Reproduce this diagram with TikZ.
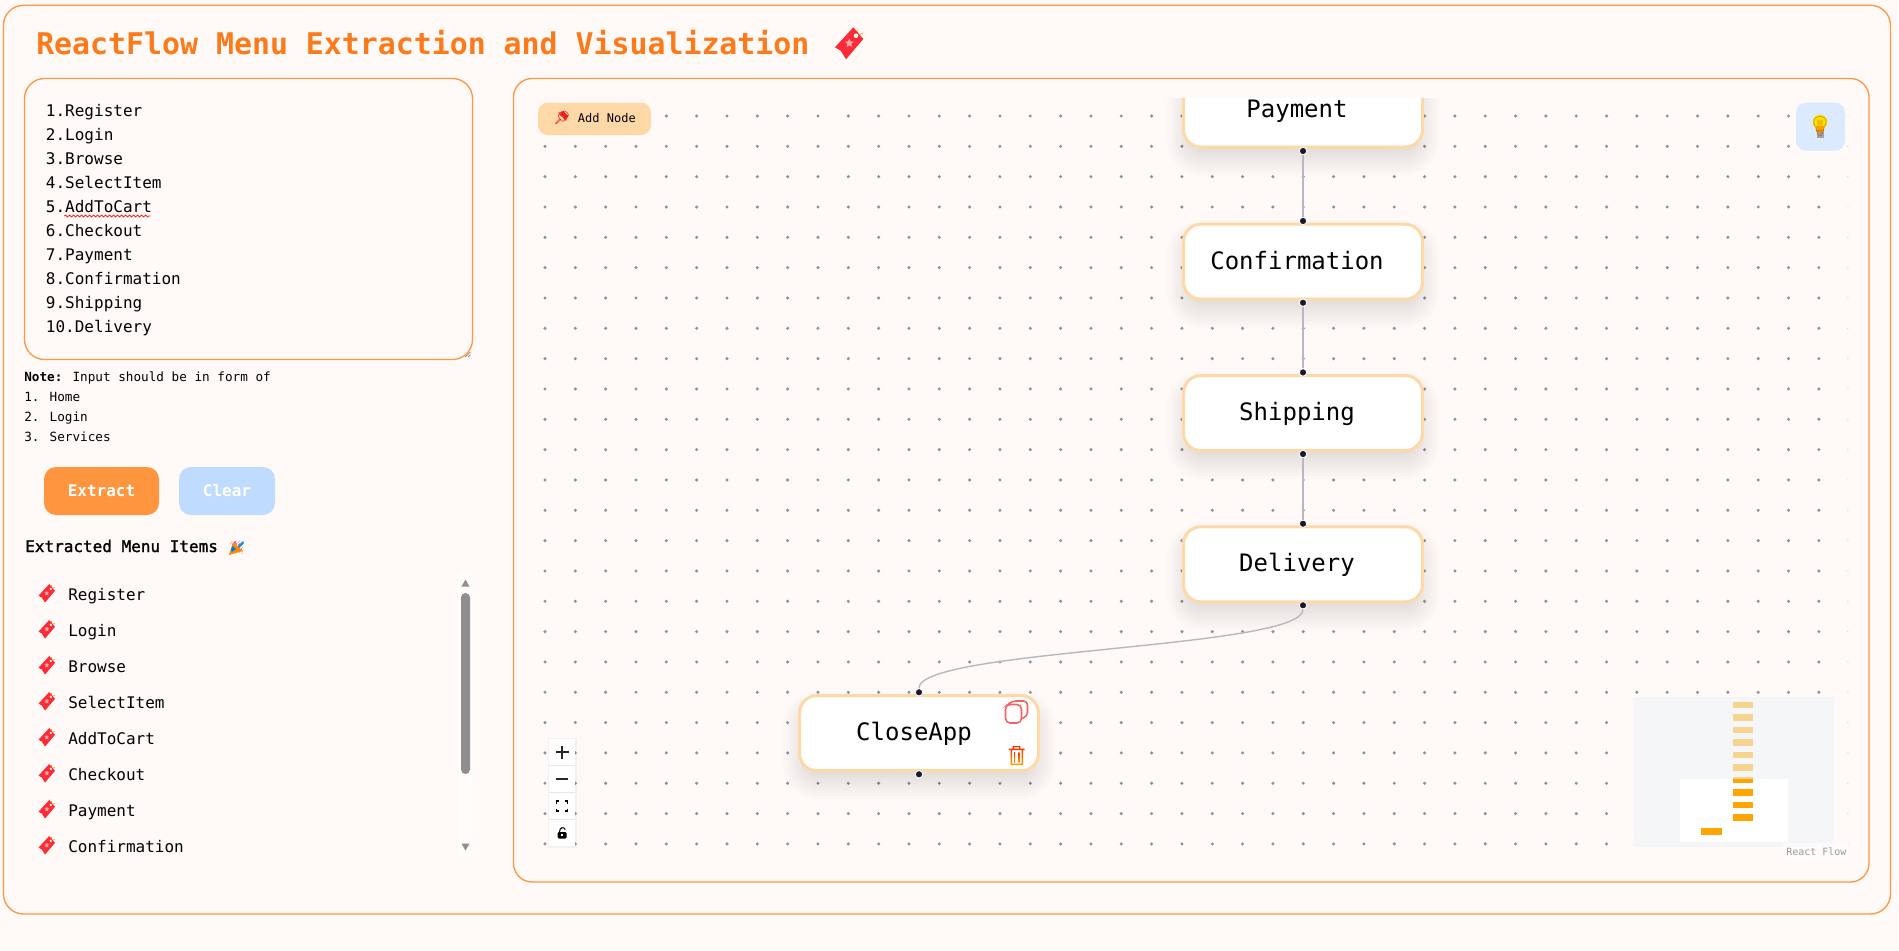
\documentclass[tikz,border=0pt]{standalone}
\usepackage{fontspec}
\setmainfont{DejaVu Sans Mono}
\newfontfamily\emojifont{Noto Emoji}
\usetikzlibrary{decorations.pathmorphing}
\definecolor{pagebg}{HTML}{FFFAF7}
\definecolor{frame}{HTML}{FD9743}
\definecolor{titlec}{HTML}{FB7A1C}
\definecolor{extractc}{HTML}{FF963F}
\definecolor{clearc}{HTML}{BFDBFE}
\definecolor{peach}{HTML}{FFD8A8}
\definecolor{dotc}{HTML}{91919A}
\definecolor{hdl}{HTML}{1A192B}
\definecolor{edgec}{HTML}{B8B8BE}
\definecolor{bulbbg}{HTML}{DBEAFE}
\definecolor{mapbg}{HTML}{F5F6F7}
\definecolor{maplight}{HTML}{F6D38F}
\definecolor{maporange}{HTML}{FFA500}
\definecolor{tick}{HTML}{FB2C36}
\definecolor{scrollc}{HTML}{8F8F8F}
\newcommand{\fs}[1]{\fontsize{#1}{#1}\selectfont}
\tikzset{
  panel/.style={draw=frame,line width=1pt},
  txt/.style={anchor=base west,inner sep=0pt,text=black},
  tarea/.style={txt,font=\fs{12pt}},
  note/.style={txt,font=\fs{9.5pt}},
  btn/.style={rounded corners=9pt,inner sep=0pt,minimum height=36pt,text=white,font=\fs{12pt}\bfseries},
  flownode/.style={draw=peach,fill=white,line width=2.25pt,rounded corners=13pt,minimum width=179.25pt,minimum height=56.25pt,inner sep=0pt,outer sep=0pt,font=\fs{18pt},text height=15pt,text depth=3.6pt,text=black},
  handle/.style={circle,fill=hdl,draw=white,line width=.7pt,minimum size=5.6pt,inner sep=0pt},
  edge/.style={draw=edgec,line width=1.05pt},
  ctrlcell/.style={fill=white,draw=none},
  emo/.style={inner sep=0pt,font=\emojifont\fs{#1}},
  labelpic/.pic={
    \draw[orange!75!yellow,line width=.45pt] (7.3,-9) -- (7.3,-14.7) (7.3,-9) -- (13.3,-11);
    \fill[tick] (3.3,-16.7) -- (13.3,-5) -- (-4,15.3) -- (-9.3,6.7) -- (-15,3.3) -- cycle;
    \fill[pink!85!tick] (-0.7,-5.5) -- (0.6,-2.6) -- (3.6,-2.3) -- (1.3,-0.1) -- (2,3) -- (-0.7,1.4) -- (-3.4,3) -- (-2.7,-0.1) -- (-5,-2.3) -- (-2,-2.6) -- cycle;
    \fill[white] (6,-8.3) circle (2.3);
  }
}
\newcommand{\shadowbox}[3]{%
  \foreach \e in {16,13,...,-10}{
    \pgfmathsetmacro{\rc}{max(6,14+\e*.75)}
    \fill[black,opacity=.011,rounded corners=\rc pt] ({#1-\e},{#3-39+14-\e}) rectangle ({#2+\e},{#3+39+11+\e});
  }
}
\begin{document}
\begin{tikzpicture}[x=0.75pt,y=-0.75pt]
\useasboundingbox (0,0) rectangle (1899,950);
\fill[pagebg] (0,0) rectangle (1899,950);
% frames
\draw[panel,rounded corners=15pt] (3.5,5.3) rectangle (1890.5,914);
\node[anchor=base west,inner sep=0pt,text=titlec,font=\fs{22.4pt}\bfseries] (title) at (36,54) {ReactFlow Menu Extraction and Visualization};
\node[emo=9pt,text=tick] (titleemoji) at (850,44) {🏷};
\pic at (850,44) {labelpic};
\draw[panel,rounded corners=15pt] (24.5,78.5) rectangle (472.5,359.5);
\draw[panel,rounded corners=14pt] (513.5,78.5) rectangle (1869,882);
% textarea
\foreach \t [count=\i from 0] in {1.Register,2.Login,3.Browse,4.SelectItem,5.AddToCart,6.Checkout,7.Payment,8.Confirmation,9.Shipping,10.Delivery}{
  \node[tarea] (ta\i) at (45.7,{116+24*\i}) {\t};
}
\draw[red!85!pink,line width=.6pt,decorate,decoration={snake,amplitude=.7pt,segment length=3pt}] (64.3,216) -- (150.7,216);
\draw[gray,line width=.5pt] (465,357) -- (470.5,352) (468,357) -- (470.5,354.7);
% note
\node[note] (note0) at (24,381) {\textbf{Note:} Input should be in form of};
\node[note] (note1) at (24,401) {1. Home};
\node[note] (note2) at (24,421) {2. Login};
\node[note] (note3) at (24,441) {3. Services};
% buttons
\node[btn,fill=extractc,minimum width=86.25pt] (extract) at (101.5,491) {Extract};
\node[btn,fill=clearc,minimum width=72pt] (clear) at (227,491) {Clear};
% extracted header
\node[txt,font=\fs{12pt}] (exthead) at (25,552) {\addfontfeature{FakeBold=1.5}Extracted Menu Items};
\node[emo=10pt,text=magenta!70!black] (party) at (236.5,548) {🎉};
\fill[orange!90!yellow] (229,555) -- (233,542) -- (243,551) -- cycle;
\fill[blue!55!cyan] (231,549.5) -- (232.5,546) -- (236,549) -- (232,552) -- cycle;
\fill[magenta!80!white] (235,542) circle (1) (240,544) circle (.9);
\fill[cyan!80!blue] (238,546) -- (243,541) -- (244,543) -- (239,548) -- cycle;
% list
\fill[white,opacity=.45] (458,570) rectangle (473,858);
\foreach \t [count=\i from 0] in {Register,Login,Browse,SelectItem,AddToCart,Checkout,Payment,Confirmation}{
  \node[emo=5pt,text=tick] (tk\i) at (47.3,{593.7+36*\i}) {🏷};
  \pic at (47.3,{593.7+36*\i}) [scale=.58] {labelpic};
  \node[tarea] (li\i) at (68,{600+36*\i}) {\t};
}
\fill[scrollc,rounded corners=3.3pt] (461,593) rectangle (470,774);
\fill[scrollc] (461.5,586.5) -- (469.5,586.5) -- (465.5,579.5) -- cycle;
\fill[scrollc] (461.5,843.5) -- (469.5,843.5) -- (465.5,850.5) -- cycle;
% canvas
\begin{scope}
  \clip (530,98.5) rectangle (1848,862);
  \foreach \c in {0,...,43}{
    \foreach \r in {0,...,24}{
      \fill[dotc] ({545+30.33*\c},{116+30.33*\r}) circle (1.7);
    }
  }
  \shadowbox{1183}{1423}{109.5}
  \shadowbox{1183}{1423}{261.7}
  \shadowbox{1183}{1423}{413}
  \shadowbox{1183}{1423}{564.3}
  \shadowbox{799}{1039}{733.2}
  \node[flownode,text depth=2.7pt] (payment) at (1303,109.5) {Payment\kern9pt};
  \node[flownode] (confirmation) at (1303,261.7) {Confirmation\kern9pt};
  \node[flownode] (shipping) at (1303,413) {Shipping\kern9pt};
  \node[flownode] (delivery) at (1303,564.3) {Delivery\kern9pt};
  \node[flownode] (closeapp) at (919,733.2) {CloseApp\kern7.5pt};
  \node[handle] (h1b) at (1303,151) {};
  \node[handle] (h2t) at (1303,221) {};
  \node[handle] (h2b) at (1303,302.7) {};
  \node[handle] (h3t) at (1303,372.4) {};
  \node[handle] (h3b) at (1303,454) {};
  \node[handle] (h4t) at (1303,523.7) {};
  \node[handle] (h4b) at (1303,605.3) {};
  \node[handle] (h5t) at (919,692.3) {};
  \node[handle] (h5b) at (919,774.3) {};
  \draw[edge] (h1b) -- (h2t);
  \draw[edge] (h2b) -- (h3t);
  \draw[edge] (h3b) -- (h4t);
  \draw[edge] (h4b.south) .. controls (1303,648.8) and (919,648.8) .. (h5t.north);
\end{scope}
% copy icon
\draw[draw=red!45!pink!95!black,line width=1.2pt,rounded corners=3.5pt] (1005.5,704.5) rectangle (1021.5,723);
\draw[draw=red!45!pink!95!black,line width=1.2pt,rounded corners=3pt] (1010,702.7) -- (1012,701) -- (1027.5,701) -- (1027.5,716) -- (1022,718.5);
% trash icon
\shade[top color=red!70!orange,bottom color=orange!75!yellow,even odd rule]
  (1012.6,748.5) rectangle (1020.4,746) (1014,748.5) rectangle (1019,747.2)
  (1009,748.5) rectangle (1024.5,750.2)
  (1010.5,750.2) rectangle (1023,765) (1012,750.2) rectangle (1021.5,763.6);
\shade[top color=red!70!orange,bottom color=orange!75!yellow] (1014.1,752) rectangle (1015.1,762);
\shade[top color=red!70!orange,bottom color=orange!75!yellow] (1018.4,752) rectangle (1019.4,762);
% add node button
\node[fill=peach,rounded corners=7.5pt,minimum width=84.75pt,minimum height=24.4pt,inner sep=0pt] (addnode) at (594.5,118.8) {};
\fill[red!75!pink] (558,113) -- (563,111) -- (568,116) -- (566,121) -- cycle;
\node[emo=10pt,text=red!80!black] (pin) at (562,118) {📌};
\node[txt,font=\fs{9pt}] (addtext) at (577.7,122.7) {Add Node};
% bulb button
\node[fill=bulbbg,rounded corners=7.5pt,minimum width=36.75pt,minimum height=36pt,inner sep=0pt] (bulbbtn) at (1820.5,126.7) {};
\fill[yellow!80!orange] (1820,122) circle (7.3);
\fill[orange!70!yellow] (1816,126) rectangle (1824,131.5);
\fill[gray!70] (1816.5,131.5) rectangle (1823.5,138);
\node[emo=15pt,text=orange!60!black,opacity=.45] (bulb) at (1820,127) {💡};
% controls
\fill[black,opacity=.04] (547.5,738) rectangle (576.5,848);
\node[ctrlcell,anchor=north west,minimum width=19.5pt,minimum height=80.25pt,inner sep=0pt] (ctrl) at (549,739) {};
\draw[gray!18,line width=.7pt] (549,765.3) -- (575,765.3) (549,792.3) -- (575,792.3) (549,819.3) -- (575,819.3);
\draw[black!85,line width=1.3pt] (555.5,752) -- (568.5,752) (562,745.5) -- (562,758.5);
\draw[black!85,line width=1.3pt] (555.8,779) -- (568.2,779);
\draw[black,line width=1pt] (556.5,803.5) -- (556.5,801) -- (559,801) (565,801) -- (567.5,801) -- (567.5,803.5) (567.5,808.5) -- (567.5,811) -- (565,811) (559,811) -- (556.5,811) -- (556.5,808.5);
\fill[black,rounded corners=1pt] (557.5,832) rectangle (566.7,838.5);
\draw[black,line width=.8pt] (559.5,832) .. controls (559.5,827) and (564,826.5) .. (565.2,829.5);
\fill[white] (561.3,834.4) rectangle (562.9,836);
% minimap
\fill[mapbg] (1634,697) rectangle (1834,847);
\fill[white] (1680,779) rectangle (1788,842);
\foreach \a/\b in {702/708,714/721,727/733,739/746,752/758,764/771,777/783}{
  \fill[maplight] (1733,\a) rectangle (1753,\b);
}
\foreach \a/\b in {779/783,789/796,802/808,814/821}{
  \fill[maporange] (1733,\a) rectangle (1753,\b);
}
\fill[maporange] (1701,828) rectangle (1722,835);
% attribution
\fill[white,opacity=.5] (1783,843) rectangle (1848,862);
\node[txt,font=\fs{7.5pt},text=gray!80] (attr) at (1786,855) {React Flow};
\end{tikzpicture}
\end{document}
